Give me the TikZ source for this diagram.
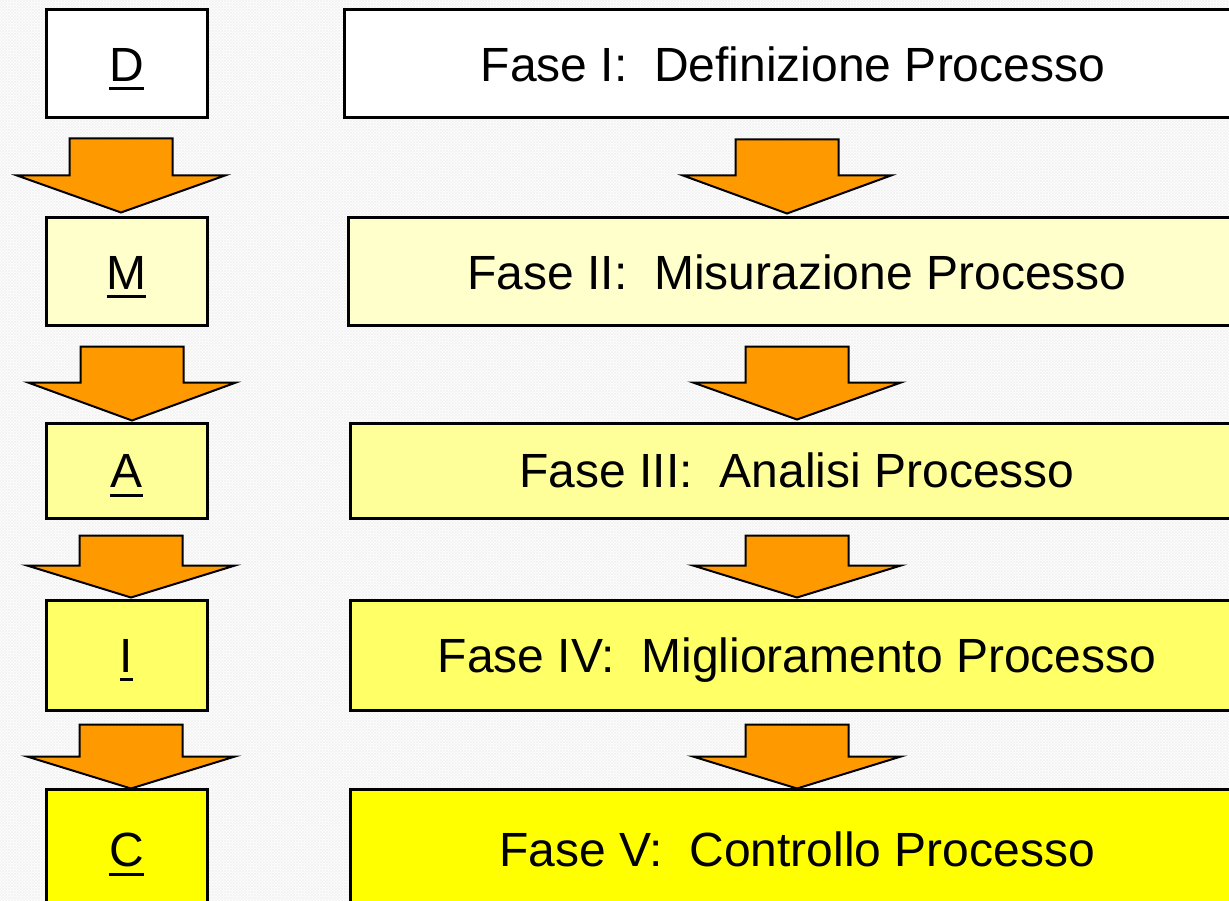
\documentclass[tikz,border=0pt]{standalone}
\usepackage{fontspec}
\setmainfont{Liberation Sans}
\usetikzlibrary{patterns,calc}
\definecolor{arrorange}{HTML}{FF9900}
\definecolor{fillM}{HTML}{FFFFCC}
\definecolor{fillA}{HTML}{FFFF99}
\definecolor{fillI}{HTML}{FFFF66}
\definecolor{fillC}{HTML}{FFFF00}
\newcommand\ulin[1]{\leavevmode\vtop{\hbox{#1}\kern6pt\hrule height 3pt}}
\newcommand\dnarrow[3]{%
  \draw[fatarr] (#1) -- ++(-104,-#2) -- ++(52.5,0) -- ++(0,-#3) -- ++(103,0) -- ++(0,#3) -- ++(52.5,0) -- cycle;}
\begin{document}
\begin{tikzpicture}[x=1pt,y=-1pt,
  box/.style={draw=black, line width=3pt, inner sep=0pt, text height=34.4pt, text depth=0pt,
    font=\fontsize{48}{58}\selectfont},
  lbox/.style={box, minimum width=161pt},
  rbox/.style={box},
  fatarr/.style={draw=black, line width=2pt, fill=arrorange, line join=miter}]
\useasboundingbox (0,0) rectangle (1229,901);
\clip (0,0) rectangle (1229,901);
\fill[white] (0,0) rectangle (1229,901);
\fill[pattern=crosshatch, pattern color=black!5] (0,0) rectangle (1229,901);

% left column
\node[lbox, fill=white, minimum height=108pt] (D) at (126.5,64) {\ulin{D}};
\node[lbox, fill=fillM, minimum height=108pt] (M) at (126.5,272) {\ulin{M}};
\node[lbox, fill=fillA, minimum height=95pt] (A) at (126.5,470.5) {\ulin{A}};
\node[lbox, fill=fillI, minimum height=110pt] (I) at (126.5,655) {\ulin{I}};
\node[lbox, fill=fillC, minimum height=120pt] (C) at (126.5,849) {\ulin{C}};

% right column
\node[rbox, fill=white, minimum width=898pt, minimum height=108pt] (P1) at (793,64) {Fase I:\ \ Definizione Processo};
\node[rbox, fill=fillM, minimum width=898pt, minimum height=108pt] (P2) at (797,272) {Fase II:\ \ Misurazione Processo};
\node[rbox, fill=fillA, minimum width=894pt, minimum height=95pt] (P3) at (797,470.5) {Fase III:\ \ Analisi Processo};
\node[rbox, fill=fillI, minimum width=894pt, minimum height=110pt] (P4) at (797,655) {Fase IV:\ \ Miglioramento Processo};
\node[rbox, fill=fillC, minimum width=894pt, minimum height=120pt] (P5) at (797,849) {Fase V:\ \ Controllo Processo};

% arrow tips
\coordinate (tDM) at ($(M.north)+(-5.5,-4)$);
\coordinate (tMA) at ($(A.north)+(5.5,-1)$);
\coordinate (tAI) at ($(I.north)+(4.5,-1)$);
\coordinate (tIC) at ($(C.north)+(4.5,1)$);
\coordinate (t12) at ($(P2.north -| P1.north)+(-6,-3)$);
\coordinate (t23) at ($(P3.north)+(0,-2)$);
\coordinate (t34) at ($(P4.north)+(0,-1)$);
\coordinate (t45) at ($(P5.north)+(0,1)$);

\dnarrow{tDM}{37}{37}
\dnarrow{tMA}{38}{36}
\dnarrow{tAI}{32}{30}
\dnarrow{tIC}{32}{32}
\dnarrow{t12}{38}{36}
\dnarrow{t23}{37}{36}
\dnarrow{t34}{32}{30}
\dnarrow{t45}{32}{32}
\end{tikzpicture}
\end{document}
